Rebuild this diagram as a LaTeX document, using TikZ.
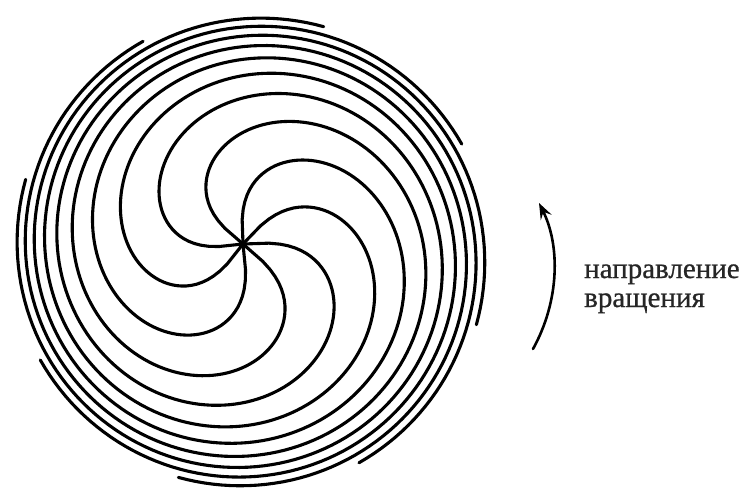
\documentclass[tikz,border=0pt]{standalone}
\usepackage{fontspec}
\setmainfont{Liberation Serif}
\newfontfamily\lblfont{Liberation Serif}[FakeBold=0.8]
\usetikzlibrary{arrows.meta}
\begin{document}
\begin{tikzpicture}[x=1pt,y=-1pt,
  declare function={spr(\t)=1.05*(8*\t+175*sqrt(1-exp(-0.5*\t)));},
  arm/.style={line width=3.1pt, line cap=round, line join=round},
  arr/.style={line width=2.6pt, line cap=round, -{Stealth[length=16pt,width=12pt,inset=6pt]}},
  lbl/.style={font=\lblfont\fontsize{29}{30}\selectfont, anchor=base west, inner sep=0pt, text=black!85}]
\useasboundingbox (0,0) rectangle (747,491);
\coordinate (c) at (243,244);
\foreach \p in {-6,39,...,309} {
  \draw[arm] plot[variable=\t, domain=0:6.7, samples=180]
    ({243+spr(\t)*cos(\p+deg(\t))+spr(\t)/236*8},{244+spr(\t)*sin(\p+deg(\t))+spr(\t)/236*8});
}
\coordinate (a0) at (533,349);
\coordinate (a1) at (539,203);
\draw[arr] (a0) .. controls (560,300) and (560,245) .. (a1);
\node[lbl] (t1) at (584,278) {направление};
\node[lbl] (t2) at (584,307) {вращения};
\end{tikzpicture}
\end{document}
